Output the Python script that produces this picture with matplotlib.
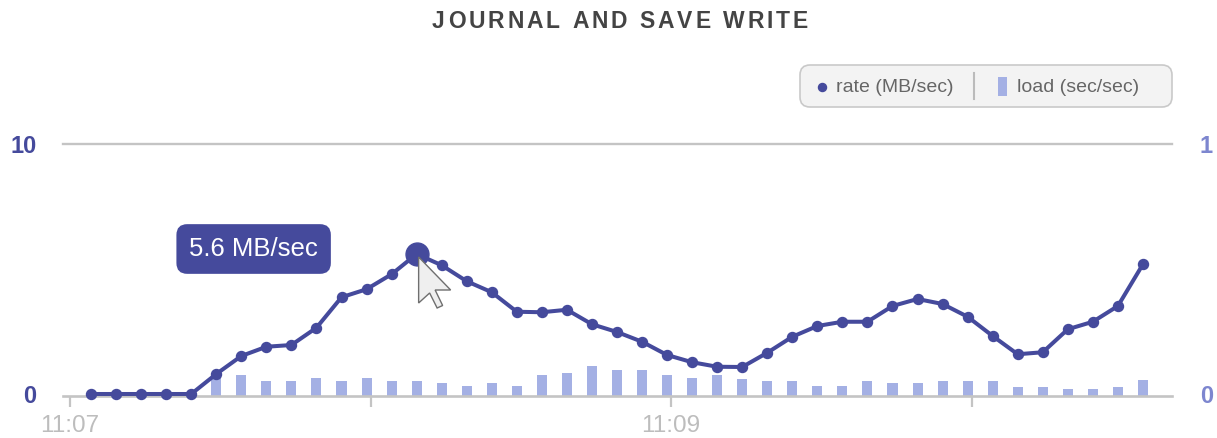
import matplotlib
matplotlib.use('Agg')
import matplotlib.pyplot as plt
from matplotlib.patches import FancyBboxPatch, Polygon, Rectangle
from matplotlib.transforms import IdentityTransform
from matplotlib.lines import Line2D
from matplotlib.font_manager import FontProperties

plt.rcParams['font.family'] = ['Liberation Sans', 'DejaVu Sans']

# ---------------- data ----------------
title = "JOURNAL AND SAVE WRITE"
series_names = ["rate (MB/sec)", "load (sec/sec)"]

# sample times, seconds after 11:07:00
seconds = [4.2, 9.2, 14.2, 19.2, 24.2, 29.2, 34.2, 39.2, 44.2, 49.2, 54.2,
           59.2, 64.2, 69.2, 74.2, 79.2, 84.2, 89.2, 94.2, 99.2, 104.2, 109.2,
           114.2, 119.2, 124.2, 129.2, 134.2, 139.2, 144.2, 149.2, 154.2, 159.2,
           164.2, 169.2, 174.2, 179.2, 184.2, 189.2, 194.2, 199.2, 204.2, 209.2,
           214.2]

rate = [0.0, 0.0, 0.0, 0.0, 0.0, 0.8, 1.52, 1.89, 1.96, 2.65, 3.87,
        4.19, 4.79, 5.6, 5.15, 4.51, 4.07, 3.29, 3.27, 3.37, 2.79, 2.48,
        2.09, 1.56, 1.27, 1.09, 1.08, 1.65, 2.29, 2.72, 2.89, 2.89,
        3.52, 3.8, 3.6, 3.09, 2.32, 1.59, 1.67, 2.59, 2.89, 3.52,
        5.19]

load = [None, None, None, None, None, 0.07, 0.076, 0.052, 0.052, 0.064, 0.052,
        0.064, 0.052, 0.052, 0.044, 0.032, 0.044, 0.032, 0.076, 0.084, 0.112, 0.096,
        0.096, 0.076, 0.064, 0.076, 0.06, 0.052, 0.052, 0.032, 0.032, 0.052,
        0.044, 0.044, 0.052, 0.052, 0.052, 0.028, 0.028, 0.02, 0.02, 0.028,
        0.056]

tick_seconds = [0, 60, 120, 180]
tick_labels = ["11:07", "", "11:09", ""]
rate_ticks = [0, 10]
load_ticks = [0, 1]

# ---------------- style ----------------
W, H = 1217, 438
LINE = '#454a9c'
BAR = '#a4b0e4'
GRID = '#c4c4c4'
RIGHT_LBL = '#7d86cf'

fig = plt.figure(figsize=(W / 100, H / 100), dpi=100)
fig.patch.set_facecolor('white')

ax_l, ax_r, ax_t, ax_b = 63, 1172, 144, 396
ax = fig.add_axes([ax_l / W, (H - ax_b) / H, (ax_r - ax_l) / W, (ax_b - ax_t) / H])
ax2 = ax.twinx()
ax.set_zorder(ax2.get_zorder() + 1)
ax.patch.set_visible(False)

ax.set_xlim(-1.4, 220.0)
ax.set_ylim(-0.08, 10)
ax2.set_ylim(-0.008, 1.0)

# bars (load)
bx = [s for s, v in zip(seconds, load) if v is not None]
bv = [v for v in load if v is not None]
lo = ax2.get_ylim()[0]
ax2.bar(bx, [v - lo for v in bv], bottom=lo, width=2.0, color=BAR, zorder=2)

# line (rate)
ax.plot(seconds, rate, color=LINE, lw=2.9, marker='o', ms=7.2,
        solid_joinstyle='round', zorder=3, clip_on=False)

# highlighted peak
pk = max(range(len(rate)), key=lambda i: rate[i])
ax.plot([seconds[pk]], [rate[pk]], 'o', color=LINE, ms=16.5, zorder=4, clip_on=False)

# top gridline
ax.axhline(10, color=GRID, lw=1.7, zorder=1, clip_on=False)

for a in (ax, ax2):
    for sp in a.spines.values():
        sp.set_visible(False)
ax.spines['bottom'].set_visible(True)
ax.spines['bottom'].set_color(GRID)
ax.spines['bottom'].set_linewidth(1.9)

ax.set_xticks(tick_seconds)
ax.set_xticklabels(tick_labels)
ax.tick_params(axis='x', length=8, width=1.6, color=GRID, labelcolor='#bdbdbd',
               labelsize=17.5, pad=6)

ax.set_yticks(rate_ticks)
ax.set_yticklabels([str(t) for t in rate_ticks])
ax.tick_params(axis='y', length=0, labelsize=17, labelcolor=LINE, pad=19)
for t in ax.get_yticklabels():
    t.set_fontweight('bold')

ax2.set_yticks(load_ticks)
ax2.set_yticklabels([str(t) for t in load_ticks])
ax2.tick_params(axis='y', length=0, labelsize=17, labelcolor=RIGHT_LBL, pad=20)
for t in ax2.get_yticklabels():
    t.set_fontweight('bold')

# tooltip
ax.annotate(f"{rate[pk]:.1f} MB/sec", xy=(seconds[pk], rate[pk]),
            xytext=(-163, 5), textcoords='offset pixels',
            ha='center', va='center', fontsize=18.5, color='white',
            bbox=dict(boxstyle='round,pad=0.5,rounding_size=0.42', fc=LINE, ec='none'),
            zorder=6)

# mouse cursor at the peak
px, py = ax.transData.transform((seconds[pk], rate[pk]))
cur = [(0, 0), (0, 46), (11, 36), (18.5, 51), (24, 48.5), (16.5, 33), (32, 33)]
verts = [(px + 2 + dx, py - 3 - dy) for dx, dy in cur]
fig.add_artist(Polygon(verts, closed=True, transform=IdentityTransform(),
                       fc='#efefef', ec='#6f6f6f', lw=1.0, zorder=10))

# legend (manual, pixel coordinates)
ident = IdentityTransform()
fig.add_artist(FancyBboxPatch((800, H - 107), 372, 42,
                              boxstyle='round,pad=0,rounding_size=10',
                              transform=ident, fc='#f3f3f3', ec='#c9c9c9', lw=1.2))
ly = H - 87
fig.add_artist(Line2D([822], [ly], marker='o', ms=5.8, color=LINE, transform=ident))
fig.text(836 / W, ly / H, series_names[0], ha='left', va='center', fontsize=14,
         color='#666666')
fig.add_artist(Line2D([974, 974], [H - 73, H - 99], color='#bbbbbb', lw=1.5,
                      transform=ident))
fig.add_artist(Rectangle((998, H - 96), 9, 19, fc=BAR, ec='none', transform=ident))
fig.text(1017 / W, ly / H, series_names[1], ha='left', va='center', fontsize=14,
         color='#666666')

# letter-spaced title
r = fig.canvas.get_renderer()
fp = FontProperties(family=['Liberation Sans', 'DejaVu Sans'], weight='bold', size=16.5)


def wid(t):
    return r.get_text_width_height_descent(t, fp, ismath=False)[0]


adv = [wid("H" + c + "H") - wid("HH") for c in title]
target = 376
spacing = (target - sum(adv)) / (len(title) - 1)
x0 = 620 - target / 2
for c, a in zip(title, adv):
    fig.text(x0 / W, (H - 21) / H, c, ha='left', va='center', fontproperties=fp,
             color='#444444')
    x0 += a + spacing

fig.savefig('out.png', dpi=100)
